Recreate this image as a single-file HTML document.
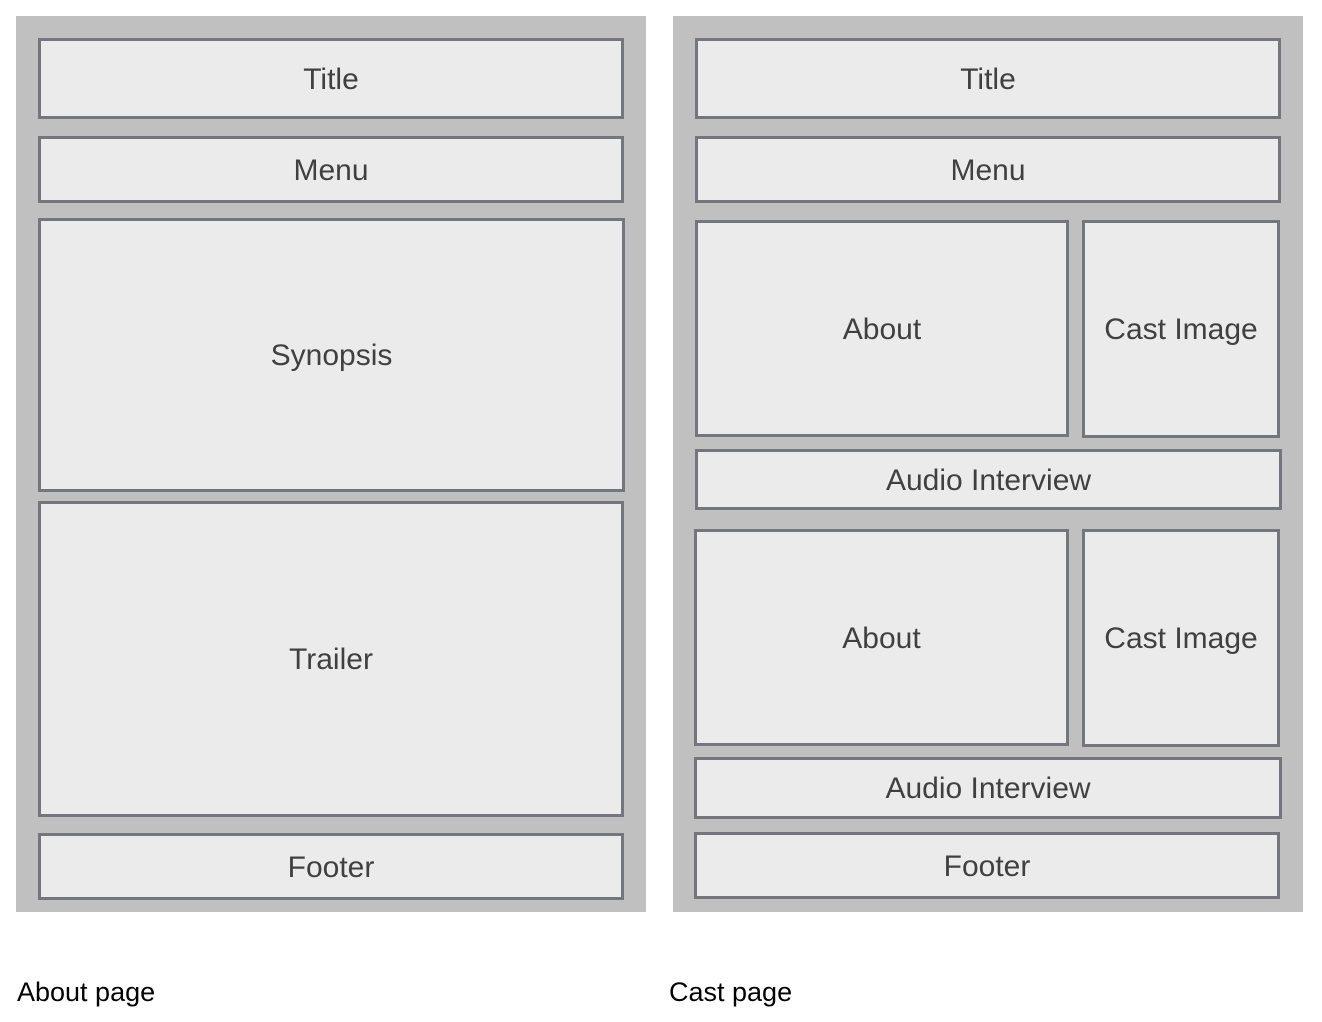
<!DOCTYPE html>
<html><head><style>
body{margin:0;width:1322px;height:1022px;background:#fff;position:relative;font-family:"Liberation Sans",sans-serif;overflow:hidden}
.p{position:absolute;background:#c0c0c0;top:16px;width:630px;height:896px}
.b{position:absolute;box-sizing:border-box;border:3px solid #75767b;background:#ebebeb;display:flex;align-items:center;justify-content:center;font-size:30px;color:#404040;padding-top:2px}
.l{position:absolute;font-size:27px;color:#000;top:977px}
</style></head><body>
<div class="p" style="left:16px"></div>
<div class="p" style="left:673px"></div>
<div class="b" style="left:38px;top:38px;width:586px;height:81px">Title</div>
<div class="b" style="left:38px;top:136px;width:586px;height:67px">Menu</div>
<div class="b" style="left:38px;top:218px;width:587px;height:274px">Synopsis</div>
<div class="b" style="left:38px;top:501px;width:586px;height:316px">Trailer</div>
<div class="b" style="left:38px;top:833px;width:586px;height:67px">Footer</div>

<div class="b" style="left:695px;top:38px;width:586px;height:81px">Title</div>
<div class="b" style="left:695px;top:136px;width:586px;height:67px">Menu</div>
<div class="b" style="left:695px;top:220px;width:374px;height:217px">About</div>
<div class="b" style="left:1082px;top:220px;width:198px;height:218px">Cast Image</div>
<div class="b" style="left:695px;top:449px;width:587px;height:61px">Audio Interview</div>
<div class="b" style="left:694px;top:529px;width:375px;height:217px">About</div>
<div class="b" style="left:1082px;top:529px;width:198px;height:218px">Cast Image</div>
<div class="b" style="left:694px;top:757px;width:588px;height:62px">Audio Interview</div>
<div class="b" style="left:694px;top:832px;width:586px;height:67px">Footer</div>

<div class="l" style="left:17px">About page</div>
<div class="l" style="left:669px">Cast page</div>
</body></html>
